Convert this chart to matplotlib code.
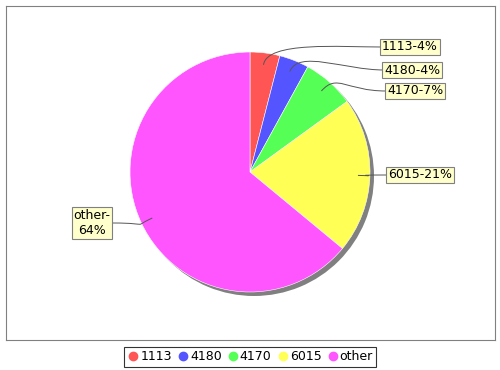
import numpy as np
import matplotlib
matplotlib.use("Agg")
import matplotlib.pyplot as plt
from matplotlib.path import Path
from matplotlib.patches import PathPatch
from matplotlib.lines import Line2D

# data
categories = ["1113", "4180", "4170", "6015", "other"]
shares = [4, 4, 7, 21, 64]
colors = ["#ff5555", "#5555ff", "#55ff55", "#ffff55", "#ff55ff"]
labels = [f"{c}-{s}%" for c, s in zip(categories, shares)]
labels[-1] = "other-\n64%"

W, H = 500, 370
fig = plt.figure(figsize=(5, 3.7), dpi=100)
fig.patch.set_facecolor("white")

# axes in pixel coordinates (y pointing up)
x0, x1, y0, y1 = 6, 495, 30, 364
ax = fig.add_axes([x0 / W, y0 / H, (x1 - x0) / W, (y1 - y0) / H])

cx, cy, r = 250, 198, 120

# shadow, then the pie
ax.pie([1], colors=["#808080"], radius=r, center=(cx + 4, cy - 4),
       wedgeprops=dict(linewidth=0), frame=True)
ax.pie(shares, colors=colors, radius=r, center=(cx, cy), startangle=90,
       counterclock=False, wedgeprops=dict(linewidth=0.4, edgecolor="#ffffff"),
       frame=True)
ax.set_xlim(x0, x1)
ax.set_ylim(y0, y1)
ax.set_aspect("equal")
ax.set_xticks([])
ax.set_yticks([])
for sp in ax.spines.values():
    sp.set_color("#808080")
    sp.set_linewidth(0.8)

# label positions (text centre) and link targets
label_pos = [(410, 323), (412, 300), (415, 279), (420, 195), (92, 147)]
link_end = [(381, 323), (384, 300), (386, 279), (386, 195), (113, 147)]

cum = np.cumsum([0] + shares[:-1])
for i, s in enumerate(shares):
    mid = np.deg2rad(90 - (cum[i] + s / 2) / 100 * 360)
    ax_x = cx + 0.9 * r * np.cos(mid)
    ax_y = cy + 0.9 * r * np.sin(mid)
    ox = cx + 1.1 * r * np.cos(mid)
    oy = cy + 1.1 * r * np.sin(mid)
    ex, ey = link_end[i]
    side = 1 if ex > cx else -1
    verts = [(ax_x, ax_y), (ox, oy), (ex - side * 40, ey), (ex, ey)]
    path = Path(verts, [Path.MOVETO, Path.CURVE4, Path.CURVE4, Path.CURVE4])
    ax.add_patch(PathPatch(path, fill=False, edgecolor="#555555", linewidth=0.7))
    lx, ly = label_pos[i]
    ax.text(lx, ly, labels[i], ha="center", va="center", fontsize=9,
            family="DejaVu Sans", multialignment="center",
            bbox=dict(boxstyle="square,pad=0.15", facecolor="#ffffcc",
                      edgecolor="#808080", linewidth=0.8))

# legend
handles = [Line2D([], [], marker="o", linestyle="none", markersize=6,
                  markerfacecolor=c, markeredgecolor=c) for c in colors]
leg = fig.legend(handles, categories, loc="center", bbox_to_anchor=(0.5, 1 - 357 / H),
                 ncol=5, fontsize=9, frameon=True, fancybox=False,
                 handletextpad=0.05, columnspacing=0.4, handlelength=1.0,
                 borderpad=0.25)
leg.get_frame().set_edgecolor("black")
leg.get_frame().set_linewidth(0.8)

fig.savefig("out.png", dpi=100)
